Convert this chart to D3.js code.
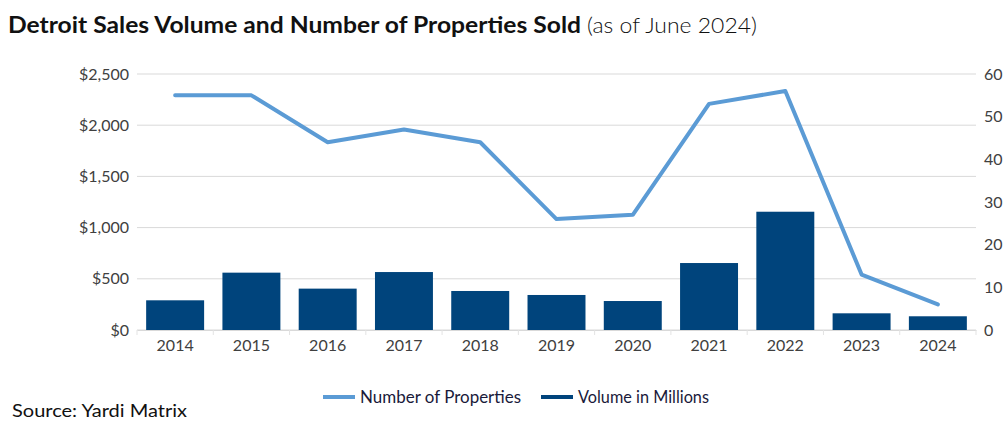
<!DOCTYPE html>
<html><head><meta charset="utf-8">
<script src="https://cdn.jsdelivr.net/npm/d3@7"></script>
<style>body{margin:0;background:#fff;} svg{display:block;}</style>
</head><body>
<svg id="c" width="1007" height="433"></svg>
<script>
const years = ["2014","2015","2016","2017","2018","2019","2020","2021","2022","2023","2024"];
const volume = [290, 560, 404, 566, 381, 342, 283, 654, 1155, 163, 134];
const properties = [55, 55, 44, 47, 44, 26, 27, 53, 56, 13, 6];
const leftTicks = [0, 500, 1000, 1500, 2000, 2500];
const rightTicks = [0, 10, 20, 30, 40, 50, 60];

(function () {
const svg = d3.select("#c");
const font = "Lato, 'Open Sans', sans-serif";
const pl = 137, pr = 976, pt = 74, pb = 330;

const x = d3.scaleBand().domain(years).range([pl, pr]).paddingInner(0.24).paddingOuter(0.12);
const yL = d3.scaleLinear().domain([0, 2500]).range([pb, pt]);
const yR = d3.scaleLinear().domain([0, 60]).range([pb, pt]);

// title
svg.append("text").attr("x", 8).attr("y", 33).attr("font-family", font).attr("fill", "#111")
  .attr("font-weight", 700).attr("font-size", 22.5)
  .attr("textLength", 573).attr("lengthAdjust", "spacingAndGlyphs")
  .text("Detroit Sales Volume and Number of Properties Sold");
svg.append("text").attr("x", 587).attr("y", 33).attr("font-family", font).attr("fill", "#111")
  .attr("font-weight", 300).attr("font-size", 21.5)
  .attr("textLength", 170).attr("lengthAdjust", "spacingAndGlyphs")
  .text("(as of June 2024)");

// grid
svg.append("g").selectAll("line").data(leftTicks).join("line")
  .attr("x1", pl).attr("x2", pr)
  .attr("y1", d => yL(d)).attr("y2", d => yL(d))
  .attr("stroke", "#d9d9d9").attr("stroke-width", 1);

// left axis
const gl = svg.append("g").attr("transform", `translate(${pl - 5},0)`)
  .call(d3.axisLeft(yL).tickValues(leftTicks).tickSize(0).tickFormat(d => "$" + d3.format(",")(d)));
gl.select(".domain").remove();
gl.selectAll("text").attr("font-family", font).attr("font-size", 16).attr("fill", "#404040");

// right axis
const gr = svg.append("g").attr("transform", `translate(${pr + 5},0)`)
  .call(d3.axisRight(yR).tickValues(rightTicks).tickSize(0));
gr.select(".domain").remove();
gr.selectAll("text").attr("font-family", font).attr("font-size", 16).attr("fill", "#404040");

// bars
svg.append("g").selectAll("rect").data(years).join("rect")
  .attr("x", d => x(d)).attr("width", x.bandwidth())
  .attr("y", (d, i) => yL(volume[i])).attr("height", (d, i) => pb - yL(volume[i]))
  .attr("fill", "#00447c");

// x axis
const gx = svg.append("g").attr("transform", `translate(0,${pb})`)
  .call(d3.axisBottom(x).tickSize(0).tickPadding(10));
gx.select(".domain").attr("stroke", "#d9d9d9");
gx.selectAll("text").attr("font-family", font).attr("font-size", 16).attr("fill", "#404040");
svg.append("g").selectAll("line").data(d3.range(years.length + 1)).join("line")
  .attr("x1", i => pl + i * (pr - pl) / years.length)
  .attr("x2", i => pl + i * (pr - pl) / years.length)
  .attr("y1", pb).attr("y2", pb + 5)
  .attr("stroke", "#e3e3e3");

// line
const line = d3.line().x((d, i) => x(years[i]) + x.bandwidth() / 2).y(d => yR(d));
svg.append("path").datum(properties).attr("d", line)
  .attr("fill", "none").attr("stroke", "#5b9bd5").attr("stroke-width", 4)
  .attr("stroke-linejoin", "round").attr("stroke-linecap", "round");

// legend
const lg = svg.append("g").attr("font-family", font).attr("font-size", 16.5);
const legendItems = [
  {label: "Number of Properties", color: "#5b9bd5", x: 323, w: 161},
  {label: "Volume in Millions", color: "#00447c", x: 541, w: 131}
];
legendItems.forEach(it => {
  lg.append("line").attr("x1", it.x).attr("x2", it.x + 32).attr("y1", 397).attr("y2", 397)
    .attr("stroke", it.color).attr("stroke-width", 4);
  lg.append("text").attr("x", it.x + 37).attr("y", 403).attr("fill", "#1a1a3a")
    .attr("textLength", it.w).attr("lengthAdjust", "spacingAndGlyphs").text(it.label);
});

// source
svg.append("text").attr("x", 12).attr("y", 417).attr("font-family", font).attr("font-size", 18)
  .attr("fill", "#111").attr("textLength", 175).attr("lengthAdjust", "spacingAndGlyphs")
  .text("Source: Yardi Matrix");
})();
</script>
</body></html>
